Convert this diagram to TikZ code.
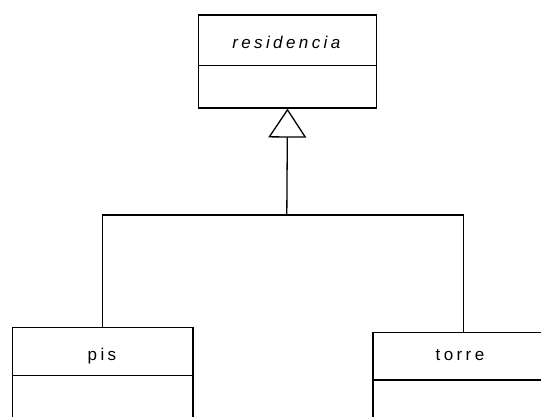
\documentclass[tikz,border=0pt]{standalone}
\usepackage{fontspec}
\setmainfont{Liberation Sans}
\usetikzlibrary{arrows.meta}
\begin{document}
\begin{tikzpicture}[x=1pt,y=-1pt,line width=1.3pt,
  compart/.style={draw,rectangle,inner sep=0pt,anchor=north west},
  lbl/.style={inner sep=0pt,anchor=base,font=\fontsize{17}{20}\selectfont\addfontfeature{LetterSpace=20}},
  gen/.style={-{Triangle[open,length=29pt,width=38pt,line width=1.3pt]}}]
\useasboundingbox (0,0) rectangle (541,416);
\clip (0,0) rectangle (541,416);
% residencia
\node[compart,minimum width=178.3pt,minimum height=50.7pt] (resH) at (197.7,14.3) {};
\node[compart,minimum width=178.3pt,minimum height=42.3pt] (resB) at (197.7,65) {};
\node[lbl] (resT) at (286.3,48.3) {\itshape residencia};
% pis
\node[compart,minimum width=180.6pt,minimum height=48pt] (pisH) at (11.7,327) {};
\node[compart,minimum width=180.6pt,minimum height=60pt] (pisB) at (11.7,375) {};
\node[lbl] (pisT) at (102,360) {pis};
% torre
\node[compart,minimum width=180.6pt,minimum height=47.6pt] (torH) at (372.3,331.7) {};
\node[compart,minimum width=180.6pt,minimum height=60pt] (torB) at (372.3,379.3) {};
\node[lbl] (torT) at (460,360.5) {torre};
% connectors
\coordinate (j) at (286.8,215);
\draw[line width=1.3pt] (pisH.north) |- (j) -| (torH.north);
\draw[gen] (j) -- (resB.south);
\end{tikzpicture}
\end{document}
